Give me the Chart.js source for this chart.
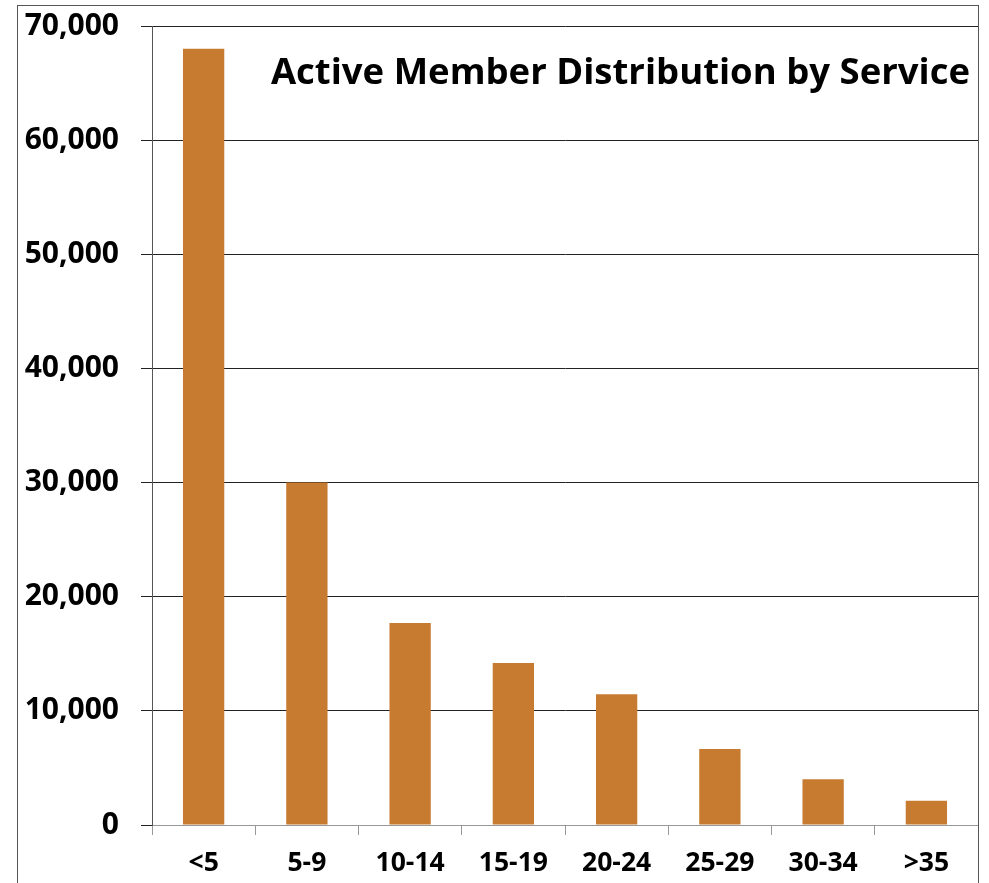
<!DOCTYPE html>
<html>
<head>
<meta charset="utf-8">
<script src="https://cdn.jsdelivr.net/npm/chart.js@4"></script>
<style>
    html, body { margin: 0; padding: 0; background: #fff; }
    .wrap { position: relative; width: 989px; height: 883px; }
    .frame {
        position: absolute; left: 17px; top: 5px; width: 960px; height: 900px;
        border: 1px solid #555; border-bottom: none; pointer-events: none;
    }
</style>
</head>
<body>
<div class="wrap">
    <canvas id="chart" width="989" height="883"></canvas>
    <div class="frame"></div>
</div>
<script>
const serviceYears = ['<5', '5-9', '10-14', '15-19', '20-24', '25-29', '30-34', '>35'];
const activeMembers = [68000, 30000, 17700, 14200, 11450, 6650, 4000, 2130];
const yTicks = [0, 10000, 20000, 30000, 40000, 50000, 60000, 70000];
const chartTitle = 'Active Member Distribution by Service';

const FONT = '"Open Sans", Calibri, sans-serif';

// title sits inside the plot, top right corner
const insideTitle = {
    id: 'insideTitle',
    afterDraw(chart) {
        const { ctx, chartArea } = chart;
        ctx.save();
        ctx.font = `bold 36.5px ${FONT}`;
        ctx.fillStyle = '#000';
        ctx.textAlign = 'right';
        ctx.textBaseline = 'alphabetic';
        ctx.fillText(chartTitle, chartArea.right - 8, 84);
        ctx.restore();
    }
};

new Chart(document.getElementById('chart'), {
    type: 'bar',
    data: {
        labels: serviceYears,
        datasets: [{
            data: activeMembers,
            backgroundColor: '#C67B30',
            borderWidth: 0,
            categoryPercentage: 0.8,
            barPercentage: 0.5
        }]
    },
    options: {
        responsive: false,
        animation: false,
        layout: { padding: { top: 26, right: 11, left: 0, bottom: 0 } },
        plugins: {
            legend: { display: false },
            tooltip: { enabled: false },
            title: { display: false }
        },
        scales: {
            x: {
                grid: {
                    offset: true,
                    drawOnChartArea: false,
                    tickLength: 10,
                    color: '#999'
                },
                border: { color: '#999', width: 1 },
                ticks: {
                    color: '#000',
                    padding: 13,
                    font: { family: FONT, size: 26.5, weight: 'bold' },
                    maxRotation: 0
                },
                afterFit(scale) { scale.height = 58; }
            },
            y: {
                min: 0,
                max: 70000,
                afterBuildTicks(scale) { scale.ticks = yTicks.map(v => ({ value: v })); },
                grid: { color: '#222', tickLength: 11 },
                border: { color: '#555', width: 1 },
                ticks: {
                    color: '#000',
                    padding: 22,
                    font: { family: FONT, size: 30, weight: 'bold' },
                    callback: v => v.toLocaleString('en-US')
                },
                afterFit(scale) {
                    scale.width = 152;
                    // the top label may overhang the plot, no extra room needed
                    scale.paddingTop = 0;
                    scale.paddingBottom = 0;
                }
            }
        }
    },
    plugins: [insideTitle]
});
</script>
</body>
</html>
